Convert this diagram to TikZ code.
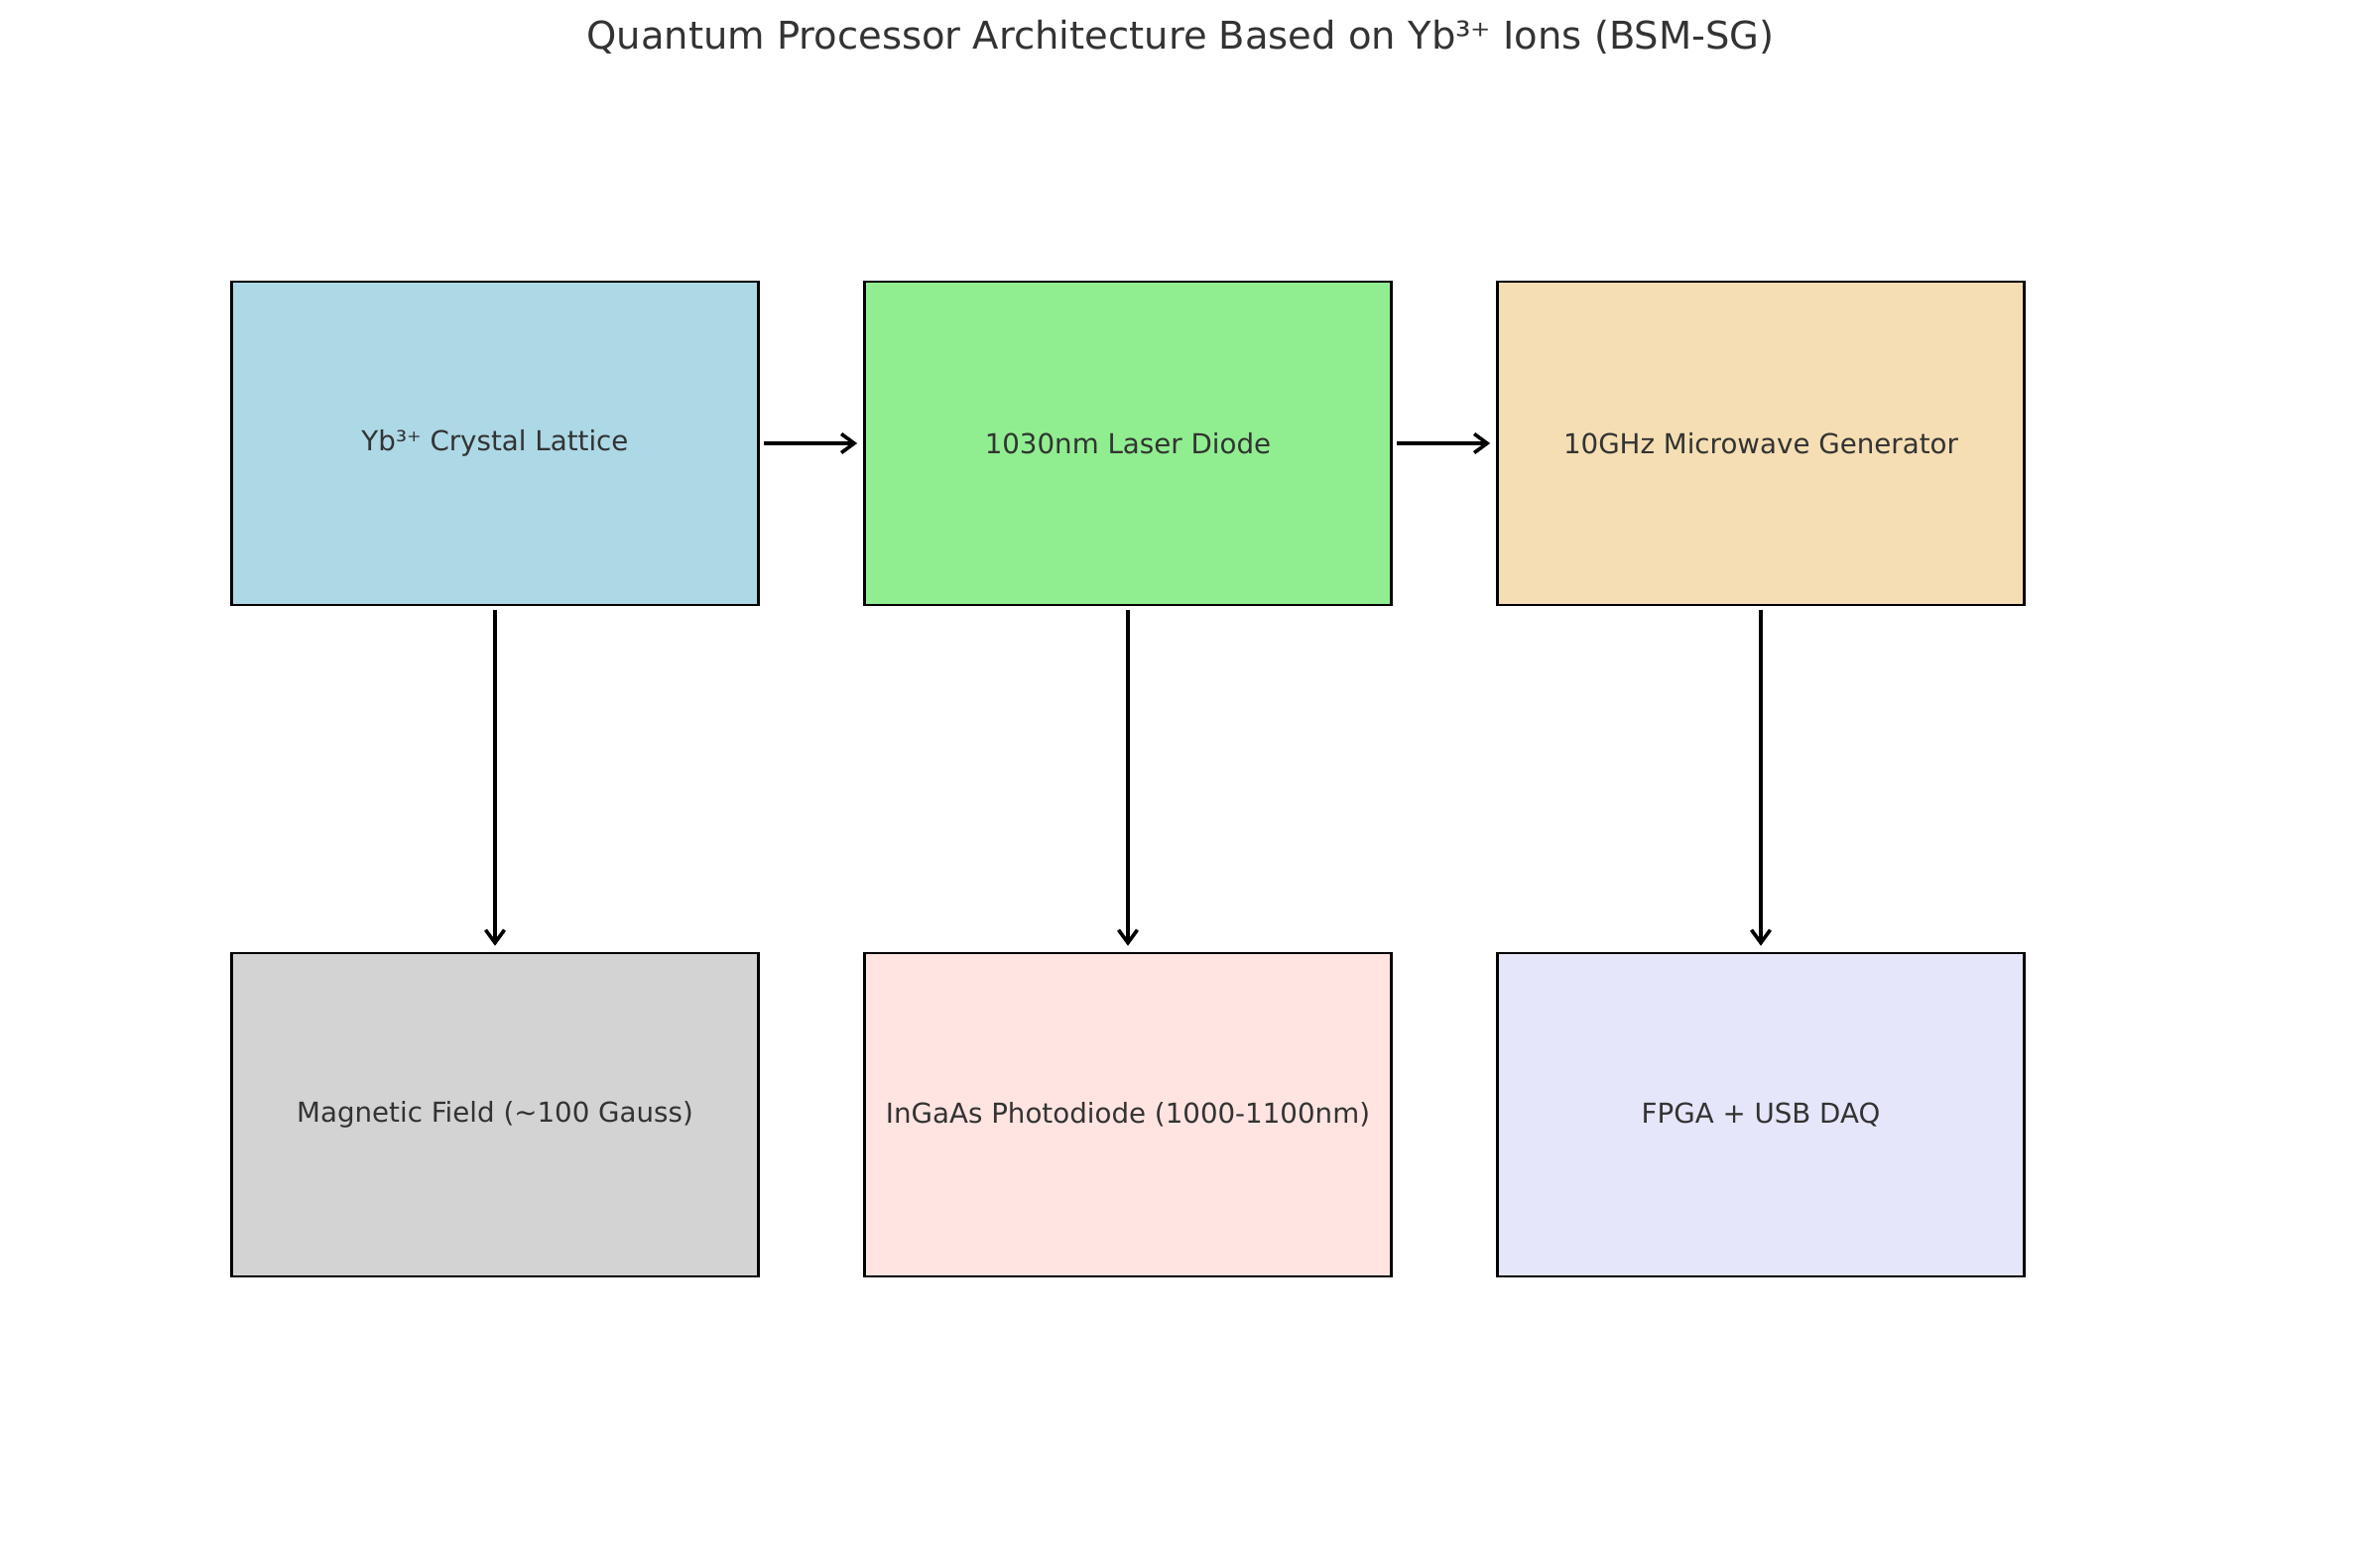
\documentclass[tikz,border=0pt]{standalone}
\usepackage{fontspec}
\setmainfont{DejaVu Sans}
\usetikzlibrary{arrows.meta}
\definecolor{clightblue}{HTML}{ADD8E6}
\definecolor{clightgreen}{HTML}{90EE90}
\definecolor{cwheat}{HTML}{F5DEB3}
\definecolor{clightgrey}{HTML}{D3D3D3}
\definecolor{cmistyrose}{HTML}{FFE4E1}
\definecolor{clavender}{HTML}{E6E6FA}
\definecolor{txt}{HTML}{333333}
\tikzset{
  box/.style={draw=black, line width=2.7pt, minimum width=531pt, minimum height=326pt, inner sep=0pt, text=txt, font=\fontsize{27.7}{32}\selectfont},
  conn/.style={line width=3.6pt, -{Straight Barb[length=13pt, width=19pt, line width=3.6pt]}}
}
\begin{document}
\begin{tikzpicture}[x=1pt,y=-1pt]
\useasboundingbox (0,0) rectangle (2379,1580);
\node[text=txt, font=\fontsize{38.5}{44}\selectfont] (title) at (1190,37) {Quantum Processor Architecture Based on Yb³⁺ Ions (BSM-SG)};
\node[box, fill=clightblue] (b1) at (499,447) {Yb³⁺ Crystal Lattice};
\node[box, fill=clightgreen] (b2) at (1137,447) {1030nm Laser Diode};
\node[box, fill=cwheat] (b3) at (1775,447) {10GHz Microwave Generator};
\node[box, fill=clightgrey] (b4) at (499,1124) {Magnetic Field (\textasciitilde 100 Gauss)};
\node[box, fill=cmistyrose] (b5) at (1137,1124) {InGaAs Photodiode (1000-1100nm)};
\node[box, fill=clavender] (b6) at (1775,1124) {FPGA + USB DAQ};
\draw[conn] ([xshift=4pt]b1.east) -- ([xshift=-6pt]b2.west);
\draw[conn] ([xshift=4pt]b2.east) -- ([xshift=-6pt]b3.west);
\draw[conn] ([yshift=-4pt]b1.south) -- ([yshift=6pt]b4.north);
\draw[conn] ([yshift=-4pt]b2.south) -- ([yshift=6pt]b5.north);
\draw[conn] ([yshift=-4pt]b3.south) -- ([yshift=6pt]b6.north);
\end{tikzpicture}
\end{document}
